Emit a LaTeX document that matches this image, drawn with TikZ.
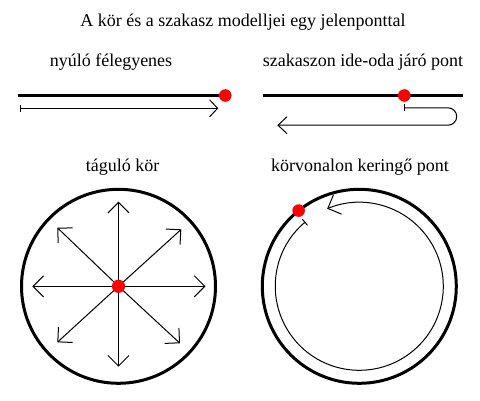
\documentclass[tikz,border=0pt]{standalone}
\usepackage{fontspec}
\setmainfont{Liberation Serif}
\usetikzlibrary{arrows.meta,calc}
\tikzset{
  lbl/.style={anchor=base, font=\fontsize{18}{20}\selectfont, inner sep=0pt},
  thickline/.style={line width=3pt},
  thinline/.style={line width=1pt},
  reddot/.style={circle, fill=red, draw=none, minimum size=12.6pt, inner sep=0pt},
  barbB/.style={-{Straight Barb[length=10.5pt,width=21pt]}},
}
\begin{document}
\begin{tikzpicture}[x=1pt,y=1pt]
\useasboundingbox (0,0) rectangle (480,-400);
% titles
\node[lbl] (title) at (243,-26.7) {A kör és a szakasz modelljei egy jelenponttal};
\node[lbl] (t1) at (111,-66.7) {nyúló félegyenes};
\node[lbl] (t2) at (363,-66.7) {szakaszon ide-oda járó pont};
\node[lbl] (t3) at (122.5,-171.7) {táguló kör};
\node[lbl] (t4) at (360,-171.7) {körvonalon keringő pont};

% top-left: half line
\coordinate (hlA) at (17.5,-95.5);
\coordinate (hlB) at (225.3,-95.5);
\draw[thickline] (hlA) -- (hlB);
\coordinate (a1s) at (20,-108.3);
\coordinate (a1e) at (218.3,-108.3);
\draw[thinline, {Bar[width=7pt]}-{Straight Barb[length=8pt,width=17pt]}] (a1s) -- (a1e);
\node[reddot] (d1) at (hlB) {};

% top-right: segment
\coordinate (sgA) at (263,-95.5);
\coordinate (sgB) at (463,-95.5);
\draw[thickline] (sgA) -- (sgB);
\coordinate (a2s) at (404.3,-107.8);
\coordinate (a2m) at (448,-107.8);
\coordinate (a2e) at (277.3,-125.2);
\draw[thinline, {Bar[width=7pt]}-{Straight Barb[length=9pt,width=17pt]}]
  (a2s) -- (a2m) arc[start angle=90, end angle=-90, radius=8.7] -- (a2e);
\node[reddot] (d2) at (404.3,-95.5) {};

% bottom-left: expanding circle
\coordinate (c1) at (118.5,-286.3);
\draw[thickline] (c1) circle[radius=97];
\foreach \ex/\ey in {32.3/-286.3, 205.5/-286.3, 118.5/-201.7, 118.5/-366.7,
                     57.3/-227.7, 181.3/-229.3, 57.3/-342.3, 180/-343.3}{
  \draw[thinline, barbB] (c1) -- (\ex,\ey);
}
\node[reddot, minimum size=13.2pt] (d3) at (c1) {};

% bottom-right: point moving on circle
\coordinate (c2) at (359.3,-286.3);
\draw[thickline] (c2) circle[radius=97];
\draw[thinline, {Bar[width=8pt]}-{Straight Barb[length=10.5pt,width=21pt]}]
  (c2) ++(130:84) arc[start angle=130, end angle=472.5, radius=84];
\node[reddot] (d4) at ($(c2)+(128.7:97)$) {};
\end{tikzpicture}
\end{document}
